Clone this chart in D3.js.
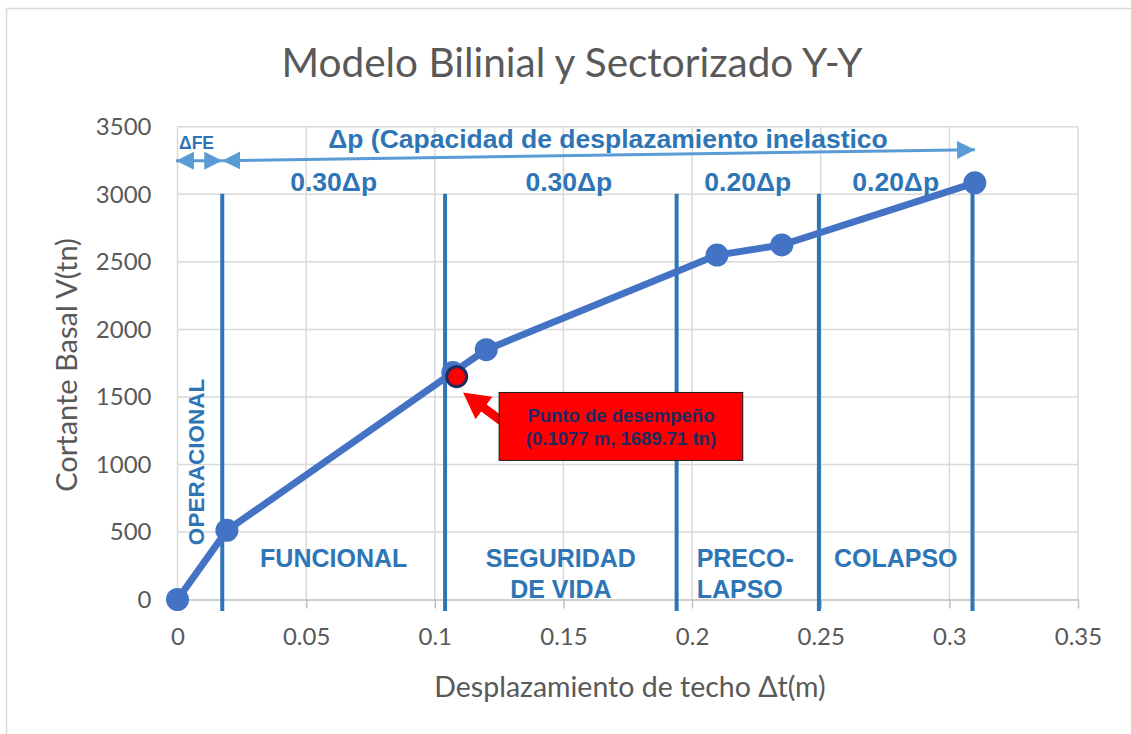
<!DOCTYPE html>
<html>
<head>
<meta charset="utf-8">
<script src="https://cdn.jsdelivr.net/npm/d3@7"></script>
<style>
    body { margin: 0; background: #fff; }
    svg { display: block; }
</style>
</head>
<body>
<div id="chart"></div>
<script>
// capacity curve (bilinear sectorized model, Y-Y)
const curveX = [0, 0.0192, 0.1070, 0.1200, 0.2097, 0.2349, 0.3099];
const curveY = [0, 512, 1680, 1850, 2550, 2625, 3085];

// performance point
const perfX = [0.1085];
const perfY = [1650];
const perfText = ["Punto de desempeño", "(0.1077 m, 1689.71 tn)"];

// sector limits
const limitX = [0.0174, 0.104, 0.194, 0.2493, 0.309];
const limitTop = [3005, 3005, 3005, 3005, 3085];
const limitBottom = -85;

const shareLabels = ["0.30Δp", "0.30Δp", "0.20Δp", "0.20Δp"];
const zoneLabels = [["FUNCIONAL"], ["SEGURIDAD", "DE VIDA"], ["PRECO-", "LAPSO"], ["COLAPSO"]];

const xTicks = [0, 0.05, 0.1, 0.15, 0.2, 0.25, 0.3, 0.35];
const yTicks = [0, 500, 1000, 1500, 2000, 2500, 3000, 3500];

const width = 1131;
const height = 734;

const blue = "#4472C4";
const darkBlue = "#2E75B6";
const lightBlue = "#5B9BD5";
const grey = "#595959";

let svg = d3.select("#chart")
    .append("svg")
    .attr("width", width)
    .attr("height", height);

// chart border
svg.append("rect")
    .attr("x", 6.5).attr("y", 8.5)
    .attr("width", 1200).attr("height", 800)
    .attr("fill", "none")
    .attr("stroke", "#D9D9D9")
    .attr("stroke-width", 1.5);

let x = d3.scaleLinear().domain([0, 0.35]).range([177.5, 1078]);
let y = d3.scaleLinear().domain([0, 3500]).range([599.5, 126.8]);

// grid
svg.append("g")
    .selectAll("line.h")
    .data(yTicks.slice(1))
    .join("line")
    .attr("x1", x(0)).attr("x2", x(0.35))
    .attr("y1", d => y(d)).attr("y2", d => y(d))
    .attr("stroke", "#D9D9D9").attr("stroke-width", 1.5);

svg.append("g")
    .selectAll("line.v")
    .data(xTicks)
    .join("line")
    .attr("x1", d => x(d)).attr("x2", d => x(d))
    .attr("y1", y(3500)).attr("y2", y(0))
    .attr("stroke", "#D9D9D9").attr("stroke-width", 1.5);

// x axis
let xAxis = svg.append("g")
    .attr("transform", "translate(0," + y(0) + ")")
    .call(d3.axisBottom(x).tickValues(xTicks).tickSize(9).tickSizeOuter(0).tickPadding(19)
        .tickFormat(d => String(+d.toFixed(2))));
xAxis.select(".domain").attr("stroke", "#BFBFBF").attr("stroke-width", 1.5);
xAxis.selectAll(".tick line").attr("stroke", "#BFBFBF").attr("stroke-width", 1.5);
xAxis.selectAll("text")
    .attr("fill", grey)
    .style("font-family", "Lato, sans-serif")
    .style("font-size", "24px");

// y axis
let yAxis = svg.append("g")
    .attr("transform", "translate(" + x(0) + ",0)")
    .call(d3.axisLeft(y).tickValues(yTicks).tickSize(0).tickPadding(26).tickFormat(d3.format("d")));
yAxis.select(".domain").remove();
yAxis.selectAll("text")
    .attr("fill", grey)
    .style("font-family", "Lato, sans-serif")
    .style("font-size", "24px");

// title
svg.append("text")
    .attr("x", 572).attr("y", 77)
    .attr("text-anchor", "middle")
    .attr("fill", grey)
    .style("font-family", "Lato, sans-serif")
    .style("font-size", "40.5px")
    .text("Modelo Bilinial y Sectorizado Y-Y");

// axis titles
svg.append("text")
    .attr("x", 630).attr("y", 697)
    .attr("text-anchor", "middle")
    .attr("fill", grey)
    .style("font-family", "Lato, sans-serif")
    .style("font-size", "28.5px")
    .text("Desplazamiento de techo Δt(m)");

svg.append("text")
    .attr("transform", "translate(77,365) rotate(-90)")
    .attr("text-anchor", "middle")
    .attr("fill", grey)
    .style("font-family", "Lato, sans-serif")
    .style("font-size", "29px")
    .text("Cortante Basal V(tn)");

// sector limit lines
svg.append("g")
    .selectAll("line")
    .data(limitX)
    .join("line")
    .attr("x1", d => x(d)).attr("x2", d => x(d))
    .attr("y1", (d, i) => y(limitTop[i]))
    .attr("y2", y(limitBottom))
    .attr("stroke", darkBlue)
    .attr("stroke-width", 4);

// arrow markers
let defs = svg.append("defs");
defs.append("marker")
    .attr("id", "head")
    .attr("markerUnits", "userSpaceOnUse")
    .attr("viewBox", "0 0 18 18")
    .attr("refX", 18).attr("refY", 9)
    .attr("markerWidth", 18).attr("markerHeight", 18)
    .attr("orient", "auto-start-reverse")
    .append("path")
    .attr("d", "M0,0 L18,9 L0,18 Z")
    .attr("fill", lightBlue);

// ΔFE arrow
svg.append("line")
    .attr("x1", x(-0.0006)).attr("y1", y(3249))
    .attr("x2", x(0.0174)).attr("y2", y(3249))
    .attr("stroke", lightBlue).attr("stroke-width", 3)
    .attr("marker-start", "url(#head)")
    .attr("marker-end", "url(#head)");

// Δp arrow
svg.append("line")
    .attr("x1", x(0.0174)).attr("y1", y(3249))
    .attr("x2", x(0.31)).attr("y2", y(3330))
    .attr("stroke", lightBlue).attr("stroke-width", 3)
    .attr("marker-start", "url(#head)")
    .attr("marker-end", "url(#head)");

let bold = "Liberation Sans, Arial, sans-serif";

svg.append("text")
    .attr("x", x(0.0074)).attr("y", 149)
    .attr("text-anchor", "middle")
    .attr("fill", darkBlue)
    .style("font-family", bold).style("font-weight", "bold").style("font-size", "17.5px")
    .text("ΔFE");

svg.append("text")
    .attr("x", 608).attr("y", 148)
    .attr("text-anchor", "middle")
    .attr("fill", darkBlue)
    .style("font-family", bold).style("font-weight", "bold").style("font-size", "26.5px")
    .text("Δp (Capacidad de desplazamiento inelastico");

// share labels between limits
let mids = d3.range(limitX.length - 1).map(i => (limitX[i] + limitX[i + 1]) / 2);

svg.append("g")
    .selectAll("text")
    .data(shareLabels)
    .join("text")
    .attr("x", (d, i) => x(mids[i]) + (i == 1 ? 8 : 0))
    .attr("y", 191)
    .attr("text-anchor", "middle")
    .attr("fill", darkBlue)
    .style("font-family", bold).style("font-weight", "bold").style("font-size", "26.5px")
    .text(d => d);

// zone labels
let zones = svg.append("g")
    .selectAll("text")
    .data(zoneLabels)
    .join("text")
    .attr("x", (d, i) => i == 2 ? x(limitX[2]) + 20 : x(mids[i]))
    .attr("y", 567)
    .attr("text-anchor", (d, i) => i == 2 ? "start" : "middle")
    .attr("fill", darkBlue)
    .style("font-family", bold).style("font-weight", "bold").style("font-size", "25px");

zones.each(function (lines) {
    let t = d3.select(this);
    let x0 = t.attr("x");
    lines.forEach((line, j) => {
        t.append("tspan").attr("x", x0).attr("dy", j == 0 ? 0 : 31).text(line);
    });
});

svg.append("text")
    .attr("transform", "translate(" + (x(0.0072) + 8) + "," + 462 + ") rotate(-90)")
    .attr("text-anchor", "middle")
    .attr("fill", darkBlue)
    .style("font-family", bold).style("font-weight", "bold").style("font-size", "22.5px")
    .text("OPERACIONAL");

// capacity curve
let curve = curveX.map((d, i) => ({ x: d, y: curveY[i] }));

svg.append("path")
    .datum(curve)
    .attr("fill", "none")
    .attr("stroke", blue)
    .attr("stroke-width", 7)
    .attr("stroke-linejoin", "round")
    .attr("d", d3.line().x(d => x(d.x)).y(d => y(d.y)));

svg.append("g")
    .selectAll("circle")
    .data(curve)
    .join("circle")
    .attr("cx", d => x(d.x))
    .attr("cy", d => y(d.y))
    .attr("r", 11.5)
    .attr("fill", blue);

// performance point
svg.append("circle")
    .attr("cx", x(perfX[0]))
    .attr("cy", y(perfY[0]))
    .attr("r", 10)
    .attr("fill", "#FF0000")
    .attr("stroke", "#1F2A60")
    .attr("stroke-width", 3);

// callout box and red arrow
const boxX = [0.125, 0.2197];
const boxY = [1030, 1533];
const arrowTip = [0.1110, 1533];
const arrowTail = [0.1260, 1320];

let tip = [x(arrowTip[0]), y(arrowTip[1])];
let tail = [x(arrowTail[0]), y(arrowTail[1])];
let ang = Math.atan2(tail[1] - tip[1], tail[0] - tip[0]);
let headLen = 26, headW = 14, shaftW = 4.5;
let ux = Math.cos(ang), uy = Math.sin(ang);
let px = -uy, py = ux;
let base = [tip[0] + ux * headLen, tip[1] + uy * headLen];
let arrowPts = [
    tip,
    [base[0] + px * headW, base[1] + py * headW],
    [base[0] + px * shaftW, base[1] + py * shaftW],
    [tail[0] + px * shaftW, tail[1] + py * shaftW],
    [tail[0] - px * shaftW, tail[1] - py * shaftW],
    [base[0] - px * shaftW, base[1] - py * shaftW],
    [base[0] - px * headW, base[1] - py * headW]
];

svg.append("path")
    .attr("d", "M" + arrowPts.map(p => p.join(",")).join("L") + "Z")
    .attr("fill", "#FF0000");

svg.append("rect")
    .attr("x", x(boxX[0]))
    .attr("y", y(boxY[1]))
    .attr("width", x(boxX[1]) - x(boxX[0]))
    .attr("height", y(boxY[0]) - y(boxY[1]))
    .attr("fill", "#FF0000")
    .attr("stroke", "#1a1a1a")
    .attr("stroke-width", 1);

svg.append("g")
    .selectAll("text")
    .data(perfText)
    .join("text")
    .attr("x", (x(boxX[0]) + x(boxX[1])) / 2)
    .attr("y", (d, i) => 422 + i * 23)
    .attr("text-anchor", "middle")
    .attr("fill", "#1F2A60")
    .style("font-family", bold).style("font-weight", "bold").style("font-size", "18.5px")
    .text(d => d);
</script>
</body>
</html>
